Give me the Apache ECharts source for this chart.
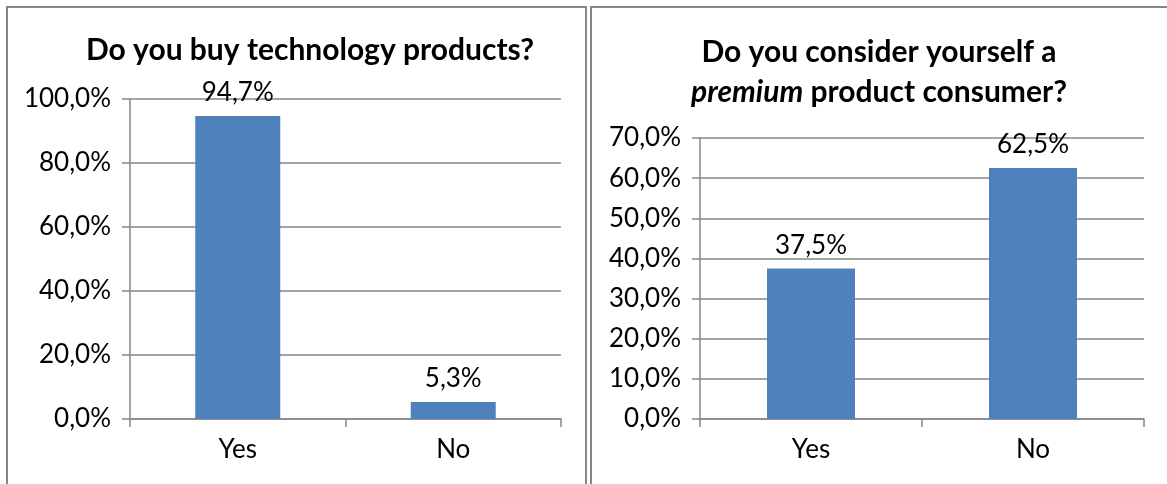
<!DOCTYPE html>
<html>
<head>
<meta charset="utf-8">
<title>Survey results</title>
<script src="https://cdn.jsdelivr.net/npm/echarts@6/dist/echarts.min.js"></script>
<style>
  html, body { margin: 0; padding: 0; background: #ffffff; }
  #chart { width: 1167px; height: 484px; }
</style>
</head>
<body>
<div id="chart"></div>
<script>
// Survey answers
const categories = ['Yes', 'No'];
const buyTechValues = [94.7, 5.3];
const premiumValues = [37.5, 62.5];

// Value-axis ranges for the two panels
const buyTechAxis = { min: 0, max: 100, interval: 20 };
const premiumAxis = { min: 0, max: 70, interval: 10 };

const FONT = 'Lato, "Open Sans", sans-serif';
const GRAY = '#868686';
const BAR = '#4F81BD';
const LABEL_SIZE = 26;
const TITLE_SIZE = 30;

const pct = v => v.toFixed(1).replace('.', ',') + '%';

function xAxisFor(gridIndex) {
  return {
    type: 'category',
    gridIndex: gridIndex,
    data: categories,
    axisLine: { lineStyle: { color: GRAY, width: 1.5 } },
    axisTick: { show: true, length: 8, lineStyle: { color: GRAY, width: 1.5 } },
    axisLabel: { color: '#000', fontFamily: FONT, fontSize: LABEL_SIZE, margin: 18 }
  };
}

function yAxisFor(gridIndex, range) {
  return {
    type: 'value',
    gridIndex: gridIndex,
    min: range.min,
    max: range.max,
    interval: range.interval,
    axisLine: { show: true, lineStyle: { color: GRAY, width: 1.5 } },
    axisTick: { show: true, length: 8, lineStyle: { color: GRAY, width: 1.5 } },
    splitLine: { show: true, lineStyle: { color: GRAY, width: 1.5 } },
    axisLabel: { color: '#000', fontFamily: FONT, fontSize: LABEL_SIZE, margin: 19, formatter: pct }
  };
}

function barSeries(index, values, width) {
  return {
    type: 'bar',
    xAxisIndex: index,
    yAxisIndex: index,
    data: values,
    barWidth: width,
    itemStyle: { color: BAR },
    label: {
      show: true,
      position: 'top',
      distance: 10,
      color: '#000',
      fontFamily: FONT,
      fontSize: LABEL_SIZE,
      formatter: p => pct(p.value)
    }
  };
}

const chart = echarts.init(document.getElementById('chart'), null, { renderer: 'canvas' });

chart.setOption({
  animation: false,
  backgroundColor: '#ffffff',
  title: [
    {
      text: 'Do you buy technology products?',
      left: 305,
      top: 30,
      textAlign: 'center',
      textStyle: { fontFamily: FONT, fontWeight: 'bold', fontSize: TITLE_SIZE, color: '#000' }
    },
    {
      text: 'Do you consider yourself a\n{i|premium} product consumer?',
      left: 874,
      top: 27,
      textAlign: 'center',
      textStyle: {
        fontFamily: FONT, fontWeight: 'bold', fontSize: TITLE_SIZE, color: '#000', lineHeight: 40,
        rich: {
          i: { fontFamily: FONT, fontWeight: 'bold', fontStyle: 'italic', fontSize: TITLE_SIZE, color: '#000', lineHeight: 40 }
        }
      }
    }
  ],
  grid: [
    { left: 130, top: 99, width: 431, height: 320 },
    { left: 700, top: 138, width: 444, height: 281 }
  ],
  xAxis: [xAxisFor(0), xAxisFor(1)],
  yAxis: [yAxisFor(0, buyTechAxis), yAxisFor(1, premiumAxis)],
  series: [
    barSeries(0, buyTechValues, 85),
    barSeries(1, premiumValues, 88)
  ],
  graphic: [
    {
      type: 'rect',
      shape: { x: 7, y: 7, width: 579, height: 520 },
      style: { fill: 'none', stroke: GRAY, lineWidth: 2 },
      silent: true
    },
    {
      type: 'rect',
      shape: { x: 591, y: 7, width: 620, height: 520 },
      style: { fill: 'none', stroke: GRAY, lineWidth: 2 },
      silent: true
    }
  ]
});
</script>
</body>
</html>
